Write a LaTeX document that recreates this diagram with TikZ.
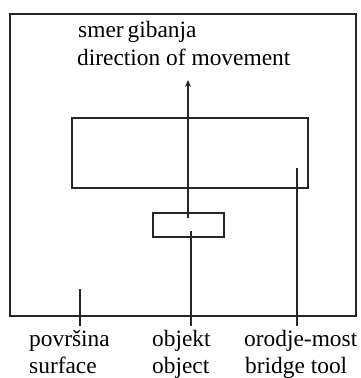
\documentclass[tikz,border=0pt]{standalone}
\usepackage{fontspec}
\setmainfont{Liberation Serif}
\usetikzlibrary{arrows.meta}
\begin{document}
\begin{tikzpicture}[x=1pt,y=-1pt,
  frame/.style={draw=black!85,line width=1.3pt,inner sep=0pt,outer sep=0pt},
  lead/.style={draw=black!85,line width=1.3pt},
  lbl/.style={inner sep=0pt,anchor=base west,text=black,font=\fontsize{23.4}{27}\selectfont}]
\useasboundingbox (0,0) rectangle (360,378);
\node[frame,minimum width=346pt,minimum height=302pt] (surf) at (183,165) {};
\node[frame,minimum width=236pt,minimum height=70pt] (tool) at (190,153) {};
\node[frame,minimum width=71pt,minimum height=24pt] (obj) at (188.5,225) {};
\coordinate (mvS) at (188,218);
\coordinate (mvE) at (188,80);
\coordinate (objS) at (191,231);
\coordinate (objE) at (191,326);
\coordinate (toolS) at (297,168);
\coordinate (toolE) at (297,326);
\coordinate (surfS) at (80,289);
\coordinate (surfE) at (80,326);
\draw[lead,-{Stealth[length=7pt,width=6pt]}] (mvS) -- (mvE);
\draw[lead] (objS) -- (objE);
\draw[lead] (toolS) -- (toolE);
\draw[lead] (surfS) -- (surfE);
\node[lbl] (t1) at (78,37.7) {smer\hspace{-0.08em} gibanja};
\node[lbl] (t2) at (77,65) {direction of movement};
\node[lbl] (b1) at (29,346.7) {površina};
\node[lbl] (b2) at (29,373) {surface};
\node[lbl] (b3) at (152,346.7) {objekt};
\node[lbl] (b4) at (152,373) {object};
\node[lbl] (b5) at (244,346.7) {orodje-most};
\node[lbl] (b6) at (245,373) {bridge tool};
\end{tikzpicture}
\end{document}
